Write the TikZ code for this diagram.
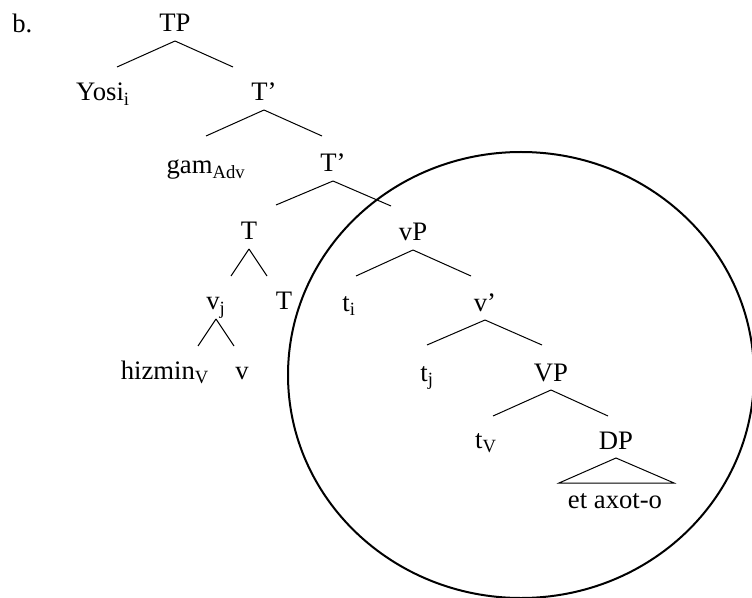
\documentclass[tikz,border=0pt]{standalone}
\usepackage{fontspec}
\setmainfont{Liberation Serif}

\tikzset{
    lbl/.style={inner sep=0pt, outer ysep=6.75pt, text depth=0pt, anchor=base},
    branch/.style={line width=0.75pt},
    ring/.style={line width=1.5pt}
}

\begin{document}
\begin{tikzpicture}[x=0.75pt, y=-0.75pt, font=\fontsize{20}{24}\selectfont]
        \useasboundingbox (0, 0) rectangle (752, 598);

        \node[lbl, anchor=base west] (label) at (12, 33) {b.};

        \node[lbl] (TP) at (175, 32) {TP};
        \node[lbl] (Yosi) at (103, 101) {Yosi\textsubscript{i}};
        \node[lbl] (Tbar) at (264, 101) {T’};
        \node[lbl] (gam) at (206, 174) {gam\textsubscript{Adv}};
        \node[lbl] (Tbarb) at (333, 172) {T’};
        \node[lbl] (T) at (249, 240) {T};
        \node[lbl] (vP) at (413, 241) {vP};
        \node[lbl] (vj) at (216, 310) {v\textsubscript{j}};
        \node[lbl] (Tb) at (284, 310) {T};
        \node[lbl] (ti) at (349, 311) {t\textsubscript{i}};
        \node[lbl] (vbar) at (485, 311) {v’};
        \node[lbl] (hizmin) at (165, 379) {hizmin\textsubscript{V}};
        \node[lbl] (v) at (242, 379) {v};
        \node[lbl] (tj) at (427, 381) {t\textsubscript{j}};
        \node[lbl] (VP) at (551, 381) {VP};
        \node[lbl] (tV) at (486, 448) {t\textsubscript{V}};
        \node[lbl] (DP) at (616, 449) {DP};
        \node[lbl] (obj) at (615, 508) {et axot-o};

        % branches
        \draw[branch] (TP.south) -- ++(-58, 26);
        \draw[branch] (TP.south) -- ++(58, 26);
        \draw[branch] (Tbar.south) -- ++(-58, 26);
        \draw[branch] (Tbar.south) -- ++(58, 26);
        \draw[branch] (Tbarb.south) -- ++(-57, 24);
        \draw[branch] (Tbarb.south) -- ++(58, 25);
        \draw[branch] (T.south) -- ++(-18, 27);
        \draw[branch] (T.south) -- ++(18, 27);
        \draw[branch] (vj.south) -- ++(-18, 27);
        \draw[branch] (vj.south) -- ++(18, 27);
        \draw[branch] (vP.south) -- ++(-57, 26);
        \draw[branch] (vP.south) -- ++(58, 26);
        \draw[branch] (vbar.south) -- ++(-58, 25);
        \draw[branch] (vbar.south) -- ++(57, 25);
        \draw[branch] (VP.south) -- ++(-58, 26);
        \draw[branch] (VP.south) -- ++(57, 26);
        \draw[branch] (DP.south) -- ++(-57, 25) -- ++(115, 0) -- cycle;

        \begin{scope}
            \clip (0, 0) rectangle (752, 598);
            \draw[ring] (521, 375) ellipse [x radius=233, y radius=223];
        \end{scope}
    \end{tikzpicture}
\end{document}
